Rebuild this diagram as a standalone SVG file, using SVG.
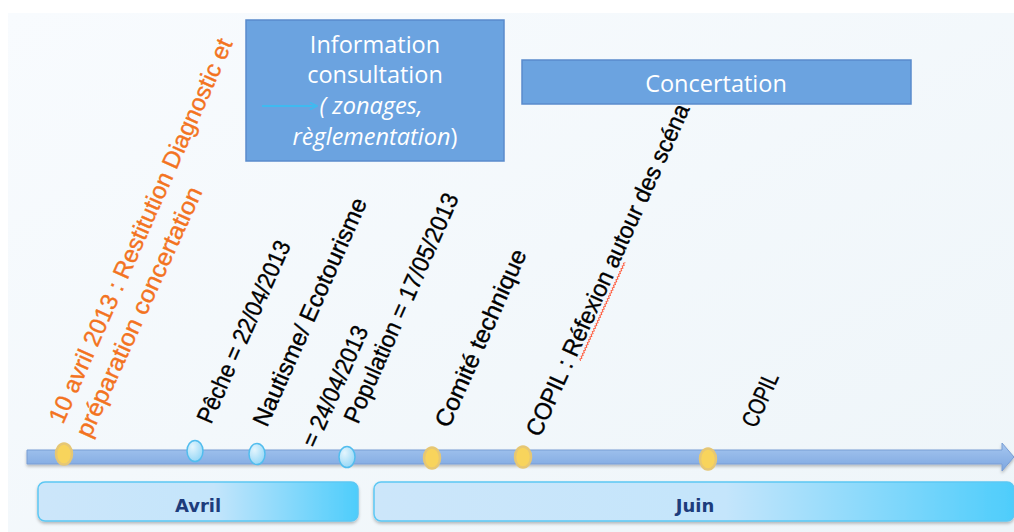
<svg xmlns="http://www.w3.org/2000/svg" width="1014" height="532" viewBox="0 0 1014 532">
  <defs>
    <linearGradient id="bg" x1="0" y1="0" x2="1" y2="1">
      <stop offset="0" stop-color="#f8fbfe"/>
      <stop offset="1" stop-color="#eef5f9"/>
    </linearGradient>
    <linearGradient id="bar" x1="0" y1="0" x2="0" y2="1">
      <stop offset="0" stop-color="#a6c7f0"/>
      <stop offset="1" stop-color="#7ca6e0"/>
    </linearGradient>
    <linearGradient id="month" x1="0" y1="0" x2="1" y2="0">
      <stop offset="0" stop-color="#cce6fa"/>
      <stop offset="0.55" stop-color="#c4e5fb"/>
      <stop offset="1" stop-color="#4ecdfb"/>
    </linearGradient>
    <radialGradient id="bdot" cx="0.35" cy="0.3" r="0.8">
      <stop offset="0" stop-color="#e4f5fd"/>
      <stop offset="1" stop-color="#8fd5f6"/>
    </radialGradient>
    <filter id="sh" x="-5%" y="-20%" width="110%" height="160%">
      <feDropShadow dx="0" dy="2" stdDeviation="1.5" flood-color="#000" flood-opacity="0.25"/>
    </filter>
    <marker id="ah" viewBox="0 0 10 10" refX="9" refY="5" markerWidth="9" markerHeight="9" orient="auto" markerUnits="userSpaceOnUse">
      <path d="M1 1 L9 5 L1 9" fill="none" stroke="#3fbaf0" stroke-width="1.8"/>
    </marker>
    <style>
      .box { fill: #6ba3e0; stroke: #5a8bcc; stroke-width: 1.5; }
      .boxt { font-family: "Open Sans", "Liberation Sans", sans-serif; font-size: 23.5px; fill: #ffffff; text-anchor: middle; }
      .lbl { font-family: "Liberation Sans", Arial, sans-serif; font-size: 24px; fill: #000000; stroke: #000000; stroke-width: 0.35px; }
      .org { font-family: "Liberation Sans", Arial, sans-serif; font-size: 24px; fill: #f37321; stroke: #f37321; stroke-width: 0.35px; }
      .ydot { fill: #f8d45c; stroke: #e6c774; stroke-width: 2.5; }
      .bdot { fill: url(#bdot); stroke: #52bdee; stroke-width: 1.5; }
      .mon { fill: url(#month); stroke: #5cc8f4; stroke-width: 1.5; }
      .mont { font-family: "DejaVu Sans", Verdana, sans-serif; font-weight: bold; font-size: 18px; fill: #1d3c7c; text-anchor: middle; }
    </style>
  </defs>

  <rect x="0" y="0" width="1014" height="532" fill="#ffffff"/>
  <rect x="8" y="13" width="1006" height="519" fill="url(#bg)"/>

  <!-- timeline bar -->
  <g id="timeline">
    <path d="M27 450 L1002 450 L1002 443 L1014 457 L1002 471 L1002 464 L27 464 Z" fill="url(#bar)" stroke="#789dd4" stroke-width="1" filter="url(#sh)"/>
  </g>

  <!-- month bars -->
  <g id="avril">
    <rect class="mon" x="38" y="482" width="320" height="39" rx="7" filter="url(#sh)"/>
    <text class="mont" x="198" y="512">Avril</text>
  </g>
  <g id="juin">
    <rect class="mon" x="374" y="482" width="640" height="39" rx="7" filter="url(#sh)"/>
    <text class="mont" x="695" y="512">Juin</text>
  </g>

  <!-- event dots -->
  <g id="dot-10avril"><ellipse class="ydot" cx="64" cy="454" rx="8" ry="10.5"/></g>
  <g id="dot-peche"><ellipse class="bdot" cx="195" cy="451" rx="8" ry="10.5"/></g>
  <g id="dot-nautisme"><ellipse class="bdot" cx="257" cy="454" rx="8" ry="10.5"/></g>
  <g id="dot-population"><ellipse class="bdot" cx="347" cy="457" rx="8" ry="10.5"/></g>
  <g id="dot-comite"><ellipse class="ydot" cx="432" cy="458" rx="8" ry="10.5"/></g>
  <g id="dot-copil1"><ellipse class="ydot" cx="523" cy="457" rx="8" ry="10.5"/></g>
  <g id="dot-copil2"><ellipse class="ydot" cx="708" cy="459" rx="8" ry="10.5"/></g>

  <!-- rotated labels -->
  <g id="label-10avril">
    <text class="org" transform="translate(63,425) rotate(-66)" textLength="418" lengthAdjust="spacingAndGlyphs">10 avril 2013 : Restitution Diagnostic et</text>
    <text class="org" transform="translate(90,439) rotate(-65.5)" textLength="272" lengthAdjust="spacingAndGlyphs">préparation concertation</text>
  </g>
  <g id="label-peche">
    <text class="lbl" transform="translate(211,425) rotate(-66)" textLength="197" lengthAdjust="spacingAndGlyphs">Pêche = 22/04/2013</text>
  </g>
  <g id="label-nautisme">
    <text class="lbl" transform="translate(267,428) rotate(-66)" textLength="247" lengthAdjust="spacingAndGlyphs">Nautisme/ Ecotourisme</text>
    <text class="lbl" transform="translate(316,449) rotate(-66)" textLength="130" lengthAdjust="spacingAndGlyphs">= 24/04/2013</text>
  </g>
  <g id="label-population">
    <text class="lbl" transform="translate(358,425) rotate(-66)" textLength="249" lengthAdjust="spacingAndGlyphs">Population = 17/05/2013</text>
  </g>
  <g id="label-comite">
    <text class="lbl" transform="translate(449,429) rotate(-66)" textLength="192" lengthAdjust="spacingAndGlyphs">Comité technique</text>
  </g>
  <g id="label-copil1">
    <g transform="translate(540,438) rotate(-65.5)">
      <text class="lbl" x="0" y="0" textLength="362" lengthAdjust="spacingAndGlyphs">COPIL : Réfexion autour des scéna</text>
      <path d="M87 5 l1.5 -1.5 l1.5 1.5 l1.5 -1.5 l1.5 1.5 l1.5 -1.5 l1.5 1.5 l1.5 -1.5 l1.5 1.5 l1.5 -1.5 l1.5 1.5 l1.5 -1.5 l1.5 1.5 l1.5 -1.5 l1.5 1.5 l1.5 -1.5 l1.5 1.5 l1.5 -1.5 l1.5 1.5 l1.5 -1.5 l1.5 1.5 l1.5 -1.5 l1.5 1.5 l1.5 -1.5 l1.5 1.5 l1.5 -1.5 l1.5 1.5 l1.5 -1.5 l1.5 1.5 l1.5 -1.5 l1.5 1.5 l1.5 -1.5 l1.5 1.5 l1.5 -1.5 l1.5 1.5 l1.5 -1.5 l1.5 1.5 l1.5 -1.5 l1.5 1.5 l1.5 -1.5 l1.5 1.5 l1.5 -1.5 l1.5 1.5 l1.5 -1.5 l1.5 1.5 l1.5 -1.5 l1.5 1.5 l1.5 -1.5 l1.5 1.5 l1.5 -1.5 l1.5 1.5 l1.5 -1.5 l1.5 1.5 l1.5 -1.5 l1.5 1.5 l1.5 -1.5 l1.5 1.5 l1.5 -1.5 l1.5 1.5 l1.5 -1.5 l1.5 1.5 l1.5 -1.5 l1.5 1.5 l1.5 -1.5 l1.5 1.5 l1.5 -1.5 l1.5 1.5 l1.5 -1.5 l1.5 1.5 l1.5 -1.5 l1.5 1.5 l1.5 -1.5 l1.5 1.5" fill="none" stroke="#ff5a3c" stroke-width="1"/>
    </g>
  </g>
  <g id="label-copil2">
    <text class="lbl" transform="translate(756,429) rotate(-66)" textLength="57" lengthAdjust="spacingAndGlyphs">COPIL</text>
  </g>

  <!-- phase boxes -->
  <g id="info-box">
    <rect class="box" x="246" y="20" width="258" height="141"/>
    <text class="boxt" x="375" y="53">Information</text>
    <text class="boxt" x="375" y="83">consultation</text>
    <text class="boxt" x="371" y="114" font-size="24.5"><tspan font-style="italic">( zonages,</tspan></text>
    <text class="boxt" x="375" y="145" font-size="24.5"><tspan font-style="italic">règlementation</tspan>)</text>
  </g>
  <g id="concertation-box">
    <rect class="box" x="522" y="60" width="389" height="44"/>
    <text class="boxt" x="716" y="92">Concertation</text>
  </g>

  <g id="connectors">
    <line x1="262" y1="106" x2="317" y2="106" stroke="#3fbaf0" stroke-width="2" marker-end="url(#ah)"/>
  </g>
</svg>
